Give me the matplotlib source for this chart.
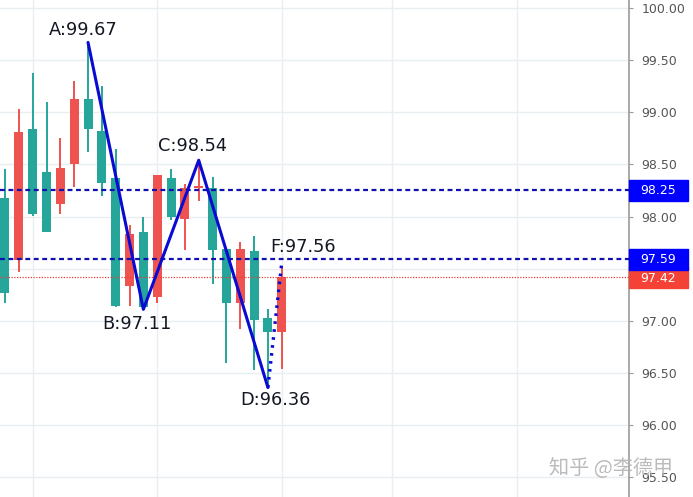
import matplotlib
matplotlib.use("Agg")
import matplotlib.pyplot as plt
from matplotlib.patches import Rectangle
import numpy as np

# daily candles, left to right (red = up, teal = down)
opens  = [98.18, 97.58, 98.84, 98.43, 98.12, 98.50, 99.13, 98.82, 98.37, 97.33, 97.85,
          97.23, 98.37, 97.98, 98.27, 98.27, 97.69, 97.17, 97.67, 97.03, 96.89]
highs  = [98.46, 99.03, 99.38, 99.10, 98.75, 99.30, 99.67, 99.25, 98.65, 97.92, 98.00,
          98.40, 98.46, 98.31, 98.54, 98.38, 97.69, 97.76, 97.81, 97.11, 97.52]
lows   = [97.17, 97.47, 98.01, 97.85, 98.02, 98.28, 98.62, 98.20, 97.13, 97.14, 97.11,
          97.17, 97.97, 97.68, 98.15, 97.35, 96.60, 96.92, 96.53, 96.36, 96.54]
closes = [97.27, 98.81, 98.02, 97.85, 98.47, 99.13, 98.84, 98.32, 97.14, 97.83, 97.13,
          98.40, 98.00, 98.27, 98.28, 97.68, 97.17, 97.69, 97.01, 96.89, 97.42]

# ABCD pattern + projected F
pattern_idx = [6, 10, 14, 19]
pattern_val = [99.67, 97.11, 98.54, 96.36]
pattern_names = ["A", "B", "C", "D"]
f_idx, f_val = 20, 97.56

level_lines = [98.25, 97.59]
last_price = 97.42
vgrid_idx = [2, 11, 20, 28, 37]
grid_y = [95.5, 96.0, 96.5, 97.0, 97.5, 98.0, 98.5, 99.0, 99.5, 100.0]
yticks = [95.5, 96.0, 96.5, 97.0, 98.0, 98.5, 99.0, 99.5, 100.0]  # 97.50 sits under the price boxes

UP = "#ef5350"
DOWN = "#26a69a"
LINE_BLUE = "#0a0ad2"
GRID = "#e9eef1"
PX = 104.3  # pixels per price unit

fig = plt.figure(figsize=(6.93, 4.97), dpi=100)
ax = fig.add_axes([0, 0, 629 / 693, 1])
ax.set_xlim(-0.36, 45.09)
ax.set_ylim(95.31, 100.077)

# grid
for y in grid_y:
    ax.axhline(y, color=GRID, lw=1, zorder=0)
for x in vgrid_idx:
    ax.axvline(x, color=GRID, lw=1, zorder=0)

# candles
x = np.arange(len(opens))
for i in x:
    o, h, l, c = opens[i], highs[i], lows[i], closes[i]
    col = UP if c >= o else DOWN
    ax.vlines(i, l, h, color=col, lw=1.4, zorder=2)
    ax.bar(i, max(abs(c - o), 0.02), bottom=min(o, c), width=0.65, color=col, zorder=3)

# level lines
for lv in level_lines:
    ax.axhline(lv, color="#1010b0", lw=1.6, ls=(0, (2.2, 1.6)), zorder=4)
ax.axhline(last_price, color="#e8413a", lw=0.9, ls=(0, (1, 1.2)), zorder=4)

# pattern
ax.plot(pattern_idx, pattern_val, color=LINE_BLUE, lw=2.2, zorder=5, solid_capstyle="round")
ax.plot([pattern_idx[-1], f_idx], [pattern_val[-1], f_val], color=LINE_BLUE, lw=2.4,
        ls=(0, (0.8, 1.6)), zorder=5)

offsets = [(-5, 12), (-6, -15), (-6, 14), (8, -12)]
for name, xi, yv, off in zip(pattern_names, pattern_idx, pattern_val, offsets):
    ax.annotate(f"{name}:{yv:.2f}", (xi, yv), xytext=off, textcoords="offset pixels",
                ha="center", va="center", fontsize=12.8, color="#131722", zorder=6)
ax.annotate(f"F:{f_val:.2f}", (f_idx, f_val), xytext=(21, 15), textcoords="offset pixels",
            ha="center", va="center", fontsize=12.8, color="#131722", zorder=6)

# right price axis
for s in ["top", "left", "bottom"]:
    ax.spines[s].set_visible(False)
ax.spines["right"].set_color("#9a9a9a")
ax.spines["right"].set_linewidth(1.2)
ax.yaxis.tick_right()
ax.set_yticks(yticks)
ax.set_yticklabels([f"{v:.2f}" for v in yticks])
ax.tick_params(axis="y", colors="#9a9a9a", labelcolor="#555555", labelsize=9, length=3, pad=6)
ax.set_xticks([])

# price boxes on the axis; red one first so the blue box sits on top of it
tr = ax.get_yaxis_transform()
box_w = 59 / 629
box_h = 21 / PX
for val, col in [(last_price, "#f44336"), (level_lines[0], "#0000ff"), (level_lines[1], "#0000ff")]:
    ax.add_patch(Rectangle((1.0, val - box_h / 2), box_w, box_h, transform=tr,
                           color=col, clip_on=False, zorder=10))
for val, dy in [(last_price, -1.5), (level_lines[0], 0), (level_lines[1], 0)]:
    ax.text(1.0 + 11 / 629, val + dy / PX, f"{val:.2f}", transform=tr, color="white",
            fontsize=9, va="center", ha="left", zorder=11, clip_on=False)

# watermark
fig.text(611 / 693, 1 - 468 / 497, "知乎 @李德甲", ha="center", va="center",
         fontsize=14.5, color="#b4b4b4", alpha=0.9,
         family=["Noto Sans CJK SC", "DejaVu Sans"], zorder=20)

fig.savefig("out.png", dpi=100)
